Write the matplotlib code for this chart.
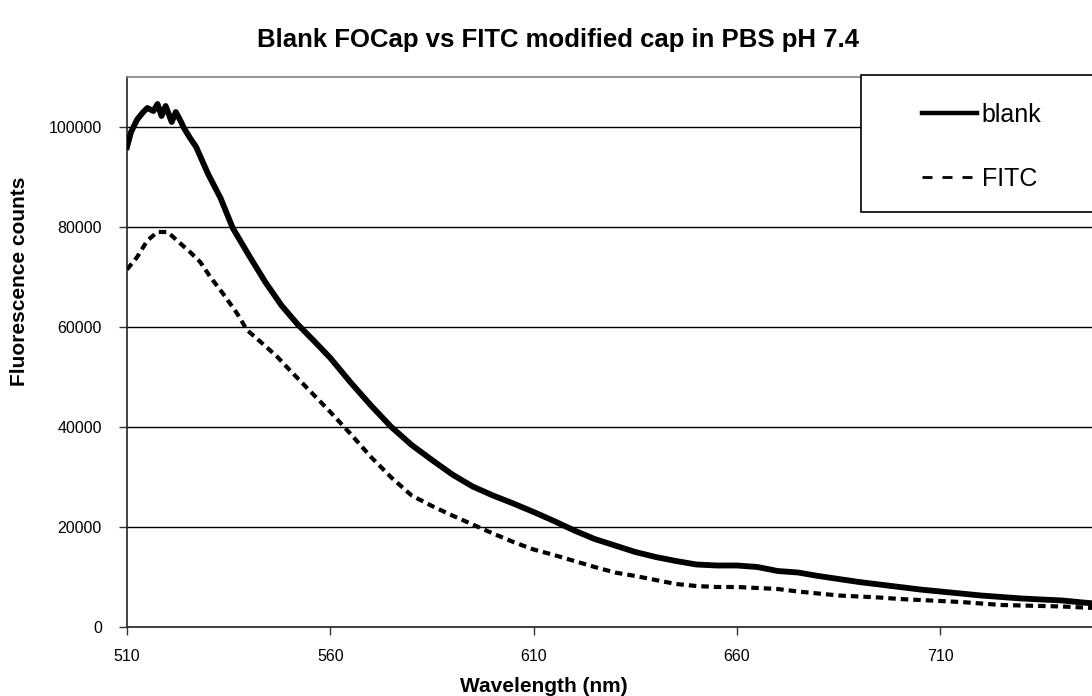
import matplotlib
matplotlib.use('Agg')
import matplotlib.pyplot as plt
from matplotlib.lines import Line2D
from matplotlib.patches import Rectangle

plt.rcParams['font.family'] = ['Liberation Sans', 'DejaVu Sans']

# emission spectra (nm, counts)
wl_blank = [510, 511, 512.5, 514, 515, 516.5, 517.5, 518.5, 519.5, 521, 522, 523, 524, 525.5, 527,
            530, 533, 536, 540, 544, 548, 552, 556, 560, 565, 570, 575, 580, 585, 590,
            595, 600, 605, 610, 615, 620, 625, 630, 635, 640, 645, 650, 655, 660, 665,
            670, 675, 680, 685, 690, 695, 700, 705, 710, 715, 720, 725, 730, 735, 740,
            745, 748]
blank = [96000, 99000, 101500, 103000, 103800, 103200, 104600, 102200, 104200, 101000, 103000, 101500, 99800, 97800, 96000,
         90500, 85800, 79800, 74300, 69000, 64300, 60500, 57200, 53800, 48900, 44300, 40000, 36400, 33400, 30500,
         28100, 26300, 24700, 23000, 21200, 19300, 17600, 16300, 15000, 14000, 13200, 12500, 12300, 12300, 12000,
         11200, 10900, 10200, 9600, 9000, 8500, 8000, 7500, 7100, 6700, 6300, 6000, 5700, 5500, 5300,
         4900, 4700]

wl_fitc = [510, 512.5, 515, 517.5, 520, 523, 525.5, 528, 530.5, 533.5, 537, 539.5, 544, 547,
           550, 555, 560, 565, 570, 575, 580, 585, 590, 595, 600, 605, 610, 615, 620,
           625, 630, 635, 640, 645, 650, 655, 660, 665, 670, 675, 680, 685, 690, 695,
           700, 705, 710, 715, 720, 725, 730, 735, 740, 745, 748]
fitc = [71500, 74000, 77300, 79000, 79000, 76800, 75000, 73000, 70000, 66800, 62800, 59400, 56200, 54000,
        51400, 47200, 43000, 38600, 34000, 29900, 26300, 24200, 22300, 20500, 18700, 17000, 15500, 14400, 13200,
        12000, 10900, 10200, 9400, 8600, 8200, 8000, 8000, 7800, 7600, 7100, 6700, 6300, 6100, 5900,
        5600, 5400, 5200, 5000, 4700, 4400, 4300, 4200, 4100, 3900, 3800]

x_ticks = [510, 560, 610, 660, 710]
y_ticks = [0, 20000, 40000, 60000, 80000, 100000]

W, H = 1092, 696
fig = plt.figure(figsize=(W / 100, H / 100), dpi=100)
ax = fig.add_axes([127 / W, 69 / H, 1 - 127 / W, (627 - 77) / H])

ax.plot(wl_blank, blank, color='black', lw=4.2, solid_joinstyle='round', zorder=3)
ax.plot(wl_fitc, fitc, color='black', lw=3.0, dashes=(1.8, 1.2), zorder=3)

ax.set_xlim(510, 747.3)
ax.set_ylim(0, 110000)
ax.set_xticks(x_ticks)
ax.set_yticks(y_ticks)
ax.set_yticklabels([str(v) for v in y_ticks])
ax.tick_params(axis='both', labelsize=11.5, direction='out', length=6, width=1, color='#333333')
ax.tick_params(axis='y', pad=12)
ax.tick_params(axis='x', pad=10)
ax.grid(axis='y', color='black', lw=1)
ax.set_axisbelow(True)

for s in ('left', 'bottom'):
    ax.spines[s].set_color('#222222')
    ax.spines[s].set_linewidth(1.2)
ax.spines['top'].set_color('#808080')
ax.spines['top'].set_linewidth(1.2)
ax.spines['right'].set_visible(False)

ax.set_xlabel('Wavelength (nm)', fontsize=15, fontweight='bold')
ax.xaxis.set_label_coords((544 - 127) / (W - 127), -50 / 550)
ax.xaxis.label.set_va('top')
ax.set_ylabel('Fluorescence counts', fontsize=15, fontweight='bold')
ax.yaxis.set_label_coords((20 - 127) / (W - 127), (627 - 281) / 550)
ax.yaxis.label.set_va('center')

fig.text(558 / W, 1 - 40 / H, 'Blank FOCap vs FITC modified cap in PBS pH 7.4',
         fontsize=18.5, fontweight='bold', ha='center', va='center')

# legend box, white and overlapping the plot, running off the right edge
box = Rectangle((861 / W, 1 - 212 / H), 0.3, 137 / H, transform=fig.transFigure,
                facecolor='white', edgecolor='black', lw=1.2, clip_on=False, zorder=4)
ax.add_patch(box)
handles = [Line2D([], [], color='black', lw=3.2),
           Line2D([], [], color='black', lw=2.0, dashes=(3.6, 3.6))]
leg = ax.legend(handles, ['blank', 'FITC'], loc='upper left', bbox_to_anchor=(909 / W, 1 - 90 / H),
                bbox_transform=fig.transFigure, frameon=False, fontsize=18,
                handlelength=2.2, handletextpad=0.2, labelspacing=1.6, borderpad=0)
leg.set_zorder(5)

fig.savefig('out.png', dpi=100)
